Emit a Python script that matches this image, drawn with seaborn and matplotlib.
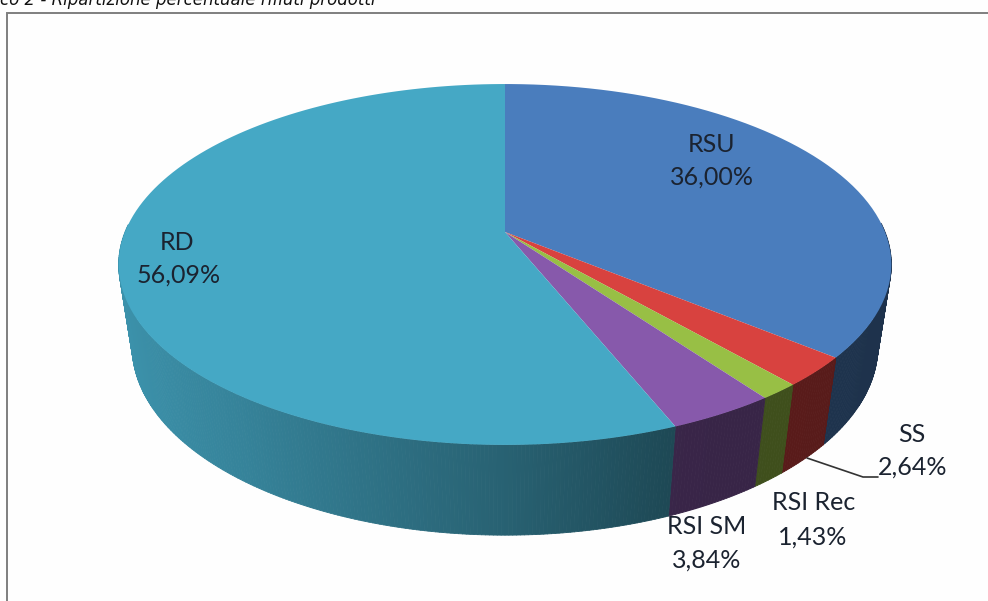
"""Grafico 2 - ripartizione percentuale rifiuti prodotti (torta 3D stile Excel)."""

import numpy as np
import matplotlib
matplotlib.use("Agg")
import matplotlib.pyplot as plt
from matplotlib.collections import PolyCollection
from matplotlib.colors import to_rgb
from matplotlib.path import Path
from matplotlib.transforms import Affine2D, Transform
import seaborn as sns

categories = ["RSU", "SS", "RSI Rec", "RSI SM", "RD"]
shares = [36.00, 2.64, 1.43, 3.84, 56.09]
top_colors = ["#4a7dbd", "#d8423f", "#98bf45", "#8759ab", "#45a8c5"]

title_text = "co 2 - Ripartizione percentuale rifiuti prodotti"

# posizioni etichette in pixel (nome, valore)
label_pos = {
    "RSU": ((712, 145), (712, 177)),
    "SS": ((912, 434), (913, 467)),
    "RSI Rec": ((814, 503), (813, 537)),
    "RSI SM": ((707, 527), (707, 560)),
    "RD": ((177, 243), (179, 275)),
}

# prospettiva della torta
CX, CY = 505, 232
A, B = 380, 174.6
K = 0.18
DEPTH_E, DEPTH_D = 0.035, 84.6


def project(u, v, h=0.0):
    w = 1 + K * v + DEPTH_E * h
    return CX + A * u / w, CY + (DEPTH_D * h - B * v) / w


class PiePerspective(Transform):
    input_dims = output_dims = 2

    def transform_non_affine(self, values):
        px, py = project(values[:, 0], values[:, 1])
        return np.column_stack([px, py])

    def transform_path_non_affine(self, path):
        # curve spezzate prima della proiezione
        poly = path.to_polygons(Affine2D().scale(1000))[0] / 1000
        return Path(self.transform_non_affine(poly), closed=True)


def wall_shade(u):
    return np.interp(u, [-1, -0.6, 0, 0.4, 1], [0.88, 0.78, 0.58, 0.42, 0.40])


sns.set_theme(style="white")
plt.rcParams["font.family"] = ["Lato", "DejaVu Sans"]

fig = plt.figure(figsize=(9.88, 6.01), dpi=100, facecolor="#fefefe")
ax = fig.add_axes([0, 0, 1, 1])

wedges, _ = ax.pie(
    shares,
    colors=top_colors,
    startangle=90,
    counterclock=False,
    wedgeprops={"linewidth": 0, "zorder": 3},
)
ax.set_aspect("auto")
ax.set_xlim(0, 988)
ax.set_ylim(601, 0)
ax.axis("off")

persp = PiePerspective()
for wedge, color in zip(wedges, top_colors):
    wedge.set_transform(persp + ax.transData)

    # parete laterale a strisce sottili, solo il lato verso chi guarda
    angles = np.radians(np.arange(wedge.theta1, wedge.theta2 + 0.5, 0.5))
    angles[-1] = np.radians(wedge.theta2)
    u, v = np.cos(angles), np.sin(angles)
    x0, y0 = project(u, v)
    x1, y1 = project(u, v, 1.0)
    quads = [
        [(x0[i], y0[i]), (x0[i + 1], y0[i + 1]), (x1[i + 1], y1[i + 1]), (x1[i], y1[i])]
        for i in range(len(angles) - 1)
        if v[i] < 0.05
    ]
    base = np.array(to_rgb(color))
    shades = [
        tuple(base * wall_shade((u[i] + u[i + 1]) / 2))
        for i in range(len(angles) - 1)
        if v[i] < 0.05
    ]
    ax.add_collection(
        PolyCollection(quads, facecolors=shades, edgecolors=shades, linewidths=0.6, zorder=2)
    )

# cornice
ax.plot([7, 7, 988], [601, 12.5, 12.5], color="#7f7f7f", lw=1.4, zorder=1, solid_joinstyle="miter")

# linea guida SS
ax.plot([807, 863, 878], [458, 477, 477], color="#333333", lw=1.2, zorder=4)

for name, share in zip(categories, shares):
    (nx, ny), (sx, sy) = label_pos[name]
    pct = f"{share:.2f}%".replace(".", ",")
    ax.text(nx, ny, name, ha="center", va="center", fontsize=18, color="#1b2330", zorder=5)
    ax.text(sx, sy, pct, ha="center", va="center", fontsize=18, color="#1b2330", zorder=5)

ax.text(0, 5, title_text, ha="left", va="baseline", fontsize=12, style="italic",
        family=["DejaVu Sans"], color="#111111")

fig.savefig("out.png", dpi=100, facecolor=fig.get_facecolor())
